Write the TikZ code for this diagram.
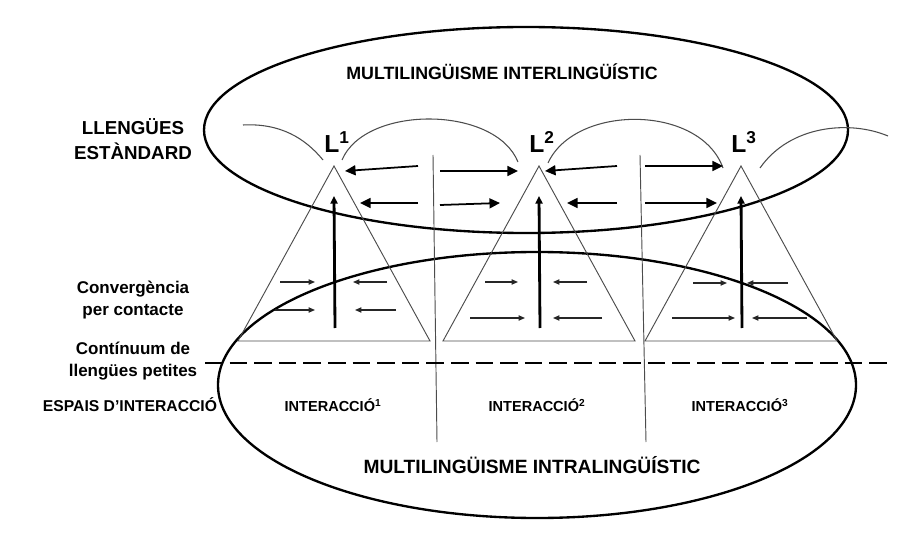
\documentclass[tikz,border=0pt]{standalone}
\usepackage{fontspec}
\setmainfont{Liberation Sans}
\usetikzlibrary{positioning, arrows.meta}

\begin{document}
\begin{tikzpicture}[
  x=0.03cm, y=-0.03cm,
  ring/.style={line width=2pt, draw=black},
  tri/.style={line width=0.8pt, draw=black!70},
  divider/.style={line width=0.8pt, draw=black!70},
  bow/.style={line width=0.9pt, draw=black!70},
  dashline/.style={line width=1.6pt, dash pattern=on 15pt off 6pt},
  flowarr/.style={-{Triangle[length=9pt,width=8.5pt]}, line width=1.5pt},
  risearr/.style={-{Triangle[length=6.5pt,width=6pt]}, line width=2.4pt},
  pusharr/.style={-{Triangle[length=5.5pt,width=4.5pt]}, line width=1pt, draw=black!85},
  bigtitle/.style={font=\fontsize{15.2}{18}\selectfont\bfseries},
  sidelabel/.style={font=\fontsize{14.5}{19.5}\selectfont\bfseries, align=center},
  langlabel/.style={font=\fontsize{21}{24}\selectfont\bfseries},
  spacelabel/.style={font=\fontsize{12.4}{15}\selectfont\bfseries}
]
  \useasboundingbox (0,0) rectangle (923,539);

  % the two rings
  \draw[ring] (526,130) ellipse [x radius=322, y radius=103];
  \draw[ring] (537,385) ellipse [x radius=319, y radius=133];

  % triangles, rising arrows, language labels
  \foreach \n/\x in {1/334, 2/539, 3/741} {
    \coordinate (apex\n) at (\x,166);
    \coordinate (foot\n) at (\x+1,328);
    \coordinate (head\n) at (\x,196);
    \draw[tri] (apex\n) -- (\x-96,341) -- (\x+96,341) -- cycle;
    \draw[risearr] (foot\n) -- (head\n);
    \node[langlabel] (L\n) at (\x+3,142) {L\textsuperscript{\n}};
  }

  % dividers
  \draw[divider] (433,155) -- (437,442);
  \draw[divider] (640,155) -- (646,442);

  % arcs over the labels
  \coordinate (b0s) at (243,125); \coordinate (b0e) at (323,160);
  \coordinate (b1s) at (342,160); \coordinate (b1e) at (518,162);
  \coordinate (b2s) at (548,163); \coordinate (b2e) at (723,168);
  \coordinate (b3s) at (760,168); \coordinate (b3e) at (888,136);
  \draw[bow] (b0s) .. controls (280,123) and (305,138) .. (b0e);
  \draw[bow] (b1s) .. controls (365,105) and (495,105) .. (b1e);
  \draw[bow] (b2s) .. controls (575,104) and (700,104) .. (b2e);
  \draw[bow] (b3s) .. controls (790,125) and (850,120) .. (b3e);

  % exchange between standard languages
  \foreach \tx/\ty/\hx/\hy in {418/166/345/171, 440/171/518/171,
      418/203/360/203, 440/205/500/203,
      617/166/545/171, 645/166/723/166,
      617/203/567/203, 645/203/717/203} {
    \draw[flowarr] (\tx,\ty) -- (\hx,\hy);
  }

  % convergence inside the triangles
  \foreach \tx/\hx/\y in {280/315/282, 387/353/282, 275/315/310, 396/355/310,
      485/518/282, 587/553/282, 470/525/318, 602/553/318,
      693/727/283, 788/747/283, 672/735/318, 807/752/318} {
    \draw[pusharr] (\tx,\y) -- (\hx,\y);
  }

  % continuum line
  \coordinate (dashL) at (205,363);
  \coordinate (dashR) at (887,363);
  \draw[dashline] (dashL) -- (dashR);

  % texts
  \node[bigtitle] (inter) at (502,72) {MULTILINGÜISME INTERLINGÜÍSTIC};
  \node[bigtitle, font=\fontsize{16.4}{19}\selectfont\bfseries] (intra) at (532,465) {MULTILINGÜISME INTRALINGÜÍSTIC};

  \node[sidelabel, font=\fontsize{16}{22}\selectfont\bfseries] (std) at (133,139) {LLENGÜES\\ESTÀNDARD};
  \node[sidelabel] (conv) at (133,300) {Convergència\\per contacte};
  \node[sidelabel] (cont) at (133,361) {Contínuum de\\llengües petites};
  \node[sidelabel, font=\fontsize{13.4}{16}\selectfont\bfseries] (espais) at (130,405) {ESPAIS D'INTERACCIÓ};

  \node[spacelabel] (int1) at (333,405) {INTERACCIÓ\textsuperscript{1}};
  \node[spacelabel] (int2) at (537,405) {INTERACCIÓ\textsuperscript{2}};
  \node[spacelabel] (int3) at (740,405) {INTERACCIÓ\textsuperscript{3}};
\end{tikzpicture}
\end{document}
